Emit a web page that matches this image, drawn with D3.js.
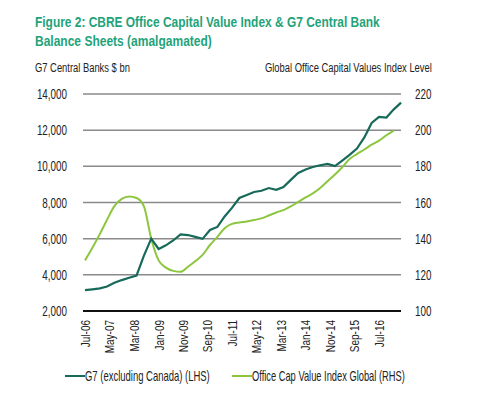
<!DOCTYPE html>
<html>
<head>
<meta charset="utf-8">
<script src="https://cdn.jsdelivr.net/npm/d3@7"></script>
<style>
  body { margin: 0; background: #fff; }
  svg { display: block; font-family: "Liberation Sans", Arial, sans-serif; }
</style>
</head>
<body>
<div id="container"></div>
<script>
const titleLines = [
  'Figure 2: CBRE Office Capital Value Index & G7 Central Bank',
  'Balance Sheets (amalgamated)',
];
const leftTitle = 'G7 Central Banks $ bn';
const rightTitle = 'Global Office Capital Values Index Level';
const seriesNames = ['G7 (excluding Canada) (LHS)', 'Office Cap Value Index Global (RHS)'];

// quarterly points, month offsets from Jul-06
const g7Months = [0, 3, 6, 9, 12, 15, 18, 21, 24, 27, 30, 33, 36, 39, 42, 45, 48, 51, 54, 57, 60, 63, 66, 69, 72, 75, 78, 81, 84, 87, 90, 93, 96, 99, 102, 105, 108, 111, 114, 117, 120, 123, 126, 129];
const g7Values = [3150, 3200, 3250, 3350, 3560, 3710, 3840, 3960, 5050, 6000, 5430, 5630, 5900, 6240, 6200, 6100, 5990, 6480, 6650, 7230, 7700, 8250, 8420, 8580, 8650, 8800, 8700, 8850, 9250, 9630, 9830, 9960, 10060, 10130, 10015, 10310, 10630, 10980, 11600, 12400, 12740, 12700, 13150, 13520];

const officeMonths = [0, 3, 6, 9, 12, 15, 18, 21, 24, 27, 30, 33, 36, 39, 42, 45, 48, 51, 54, 57, 60, 63, 66, 69, 72, 75, 78, 81, 84, 87, 90, 93, 96, 99, 102, 105, 108, 111, 114, 117, 120, 123, 126];
const officeValues = [128, 135, 142.5, 150.5, 158, 162, 163.3, 162.5, 158, 140, 128, 124, 122.2, 121.7, 124.5, 127.5, 131, 136.5, 141, 145.8, 148.2, 149, 149.5, 150.3, 151.2, 152.8, 154.5, 155.8, 157.8, 160.3, 162.8, 165, 168, 171.8, 175.5, 179.5, 184, 186.8, 189.3, 192, 194.2, 197.2, 199.8];

const leftTicks = [2000, 4000, 6000, 8000, 10000, 12000, 14000];
const rightTicks = [100, 120, 140, 160, 180, 200, 220];
const xTickMonths = [0, 10, 20, 30, 40, 50, 60, 70, 80, 90, 100, 110, 120];

const colors = { g7: '#17695a', office: '#8cc63f', title: '#1fa37a', grid: '#8a8a8a', text: '#222' };
const plot = { left: 83, right: 401, top: 94, bottom: 311 };

const start = new Date(2006, 6, 1);
const toDate = (m) => d3.timeMonth.offset(start, m);

// the original uses a very narrow typeface, so squeeze text horizontally
function squeeze(sel, factor, base) {
  sel.attr('transform', (base || '') + ' scale(' + factor + ',1)');
}
function squeezeTo(sel, x, y, width) {
  const w = sel.node().getComputedTextLength();
  sel.attr('x', 0).attr('y', 0)
    .attr('transform', 'translate(' + x + ',' + y + ') scale(' + width / w + ',1)');
}

const svg = d3.select('#container').append('svg').attr('width', 478).attr('height', 399);

const titleWidths = [345, 177];
svg.selectAll('text.title')
  .data(titleLines)
  .enter()
  .append('text')
  .attr('class', 'title')
  .attr('fill', colors.title)
  .attr('font-weight', 'bold')
  .attr('font-size', 15)
  .text((d) => d)
  .each(function (d, i) { squeezeTo(d3.select(this), 35, 27 + i * 19, titleWidths[i]); });

squeezeTo(svg.append('text').attr('font-size', 13.5).attr('fill', colors.text).text(leftTitle), 35, 72, 95);
squeezeTo(svg.append('text').attr('font-size', 13.5).attr('fill', colors.text).text(rightTitle), 265, 72, 167);

const x = d3.scaleTime().domain([start, toDate(120)]).range([85, 379]);
const yL = d3.scaleLinear().domain([2000, 14000]).range([plot.bottom, plot.top]);
const yR = d3.scaleLinear().domain([100, 220]).range([plot.bottom, plot.top]);

// grid
svg.append('g')
  .selectAll('line')
  .data(leftTicks.slice(1))
  .enter()
  .append('line')
  .attr('x1', plot.left)
  .attr('x2', plot.right)
  .attr('y1', (d) => yL(d))
  .attr('y2', (d) => yL(d))
  .attr('stroke', colors.grid)
  .attr('stroke-width', 1.5);

svg.append('line')
  .attr('x1', plot.left).attr('x2', plot.right)
  .attr('y1', yL(2000)).attr('y2', yL(2000))
  .attr('stroke', '#111').attr('stroke-width', 2);

const leftAxis = svg.append('g')
  .attr('transform', 'translate(' + (plot.left - 16) + ',0)')
  .call(d3.axisLeft(yL).tickValues(leftTicks).tickSize(0).tickPadding(0).tickFormat(d3.format(',')));
const rightAxis = svg.append('g')
  .attr('transform', 'translate(' + (plot.right + 14) + ',0)')
  .call(d3.axisRight(yR).tickValues(rightTicks).tickSize(0).tickPadding(0));
const bottomAxis = svg.append('g')
  .attr('transform', 'translate(0,' + (plot.bottom + 9) + ')')
  .call(d3.axisBottom(x).tickValues(xTickMonths.map(toDate)).tickSize(0).tickFormat(d3.timeFormat('%b-%y')));

[leftAxis, rightAxis, bottomAxis].forEach((a) => {
  a.select('.domain').remove();
  a.attr('font-family', null).attr('font-size', null);
  a.selectAll('text').attr('font-size', 14.5).attr('fill', colors.text);
});
squeeze(leftAxis.selectAll('text'), 0.68);
squeeze(rightAxis.selectAll('text'), 0.68);

bottomAxis.selectAll('text')
  .attr('font-size', 12.5)
  .attr('text-anchor', 'end')
  .attr('dy', '0.35em')
  .attr('x', 0)
  .attr('y', 0);
squeeze(bottomAxis.selectAll('text'), 0.8, 'rotate(-90)');

const g7Line = d3.line().x((d) => x(toDate(d[0]))).y((d) => yL(d[1]));
const officeLine = d3.line().curve(d3.curveMonotoneX).x((d) => x(toDate(d[0]))).y((d) => yR(d[1]));

svg.append('path')
  .datum(officeMonths.map((m, i) => [m, officeValues[i]]))
  .attr('d', officeLine)
  .attr('fill', 'none')
  .attr('stroke', colors.office)
  .attr('stroke-width', 2);

svg.append('path')
  .datum(g7Months.map((m, i) => [m, g7Values[i]]))
  .attr('d', g7Line)
  .attr('fill', 'none')
  .attr('stroke', colors.g7)
  .attr('stroke-width', 2.2);

// legend
const legendX = [65, 232];
const legendWidths = [125, 153];
const legend = svg.selectAll('g.legend')
  .data(seriesNames)
  .enter()
  .append('g')
  .attr('class', 'legend')
  .attr('transform', (d, i) => 'translate(' + legendX[i] + ',376)');
legend.append('line')
  .attr('x1', 0).attr('x2', 20).attr('y1', 0).attr('y2', 0)
  .attr('stroke', (d, i) => (i === 0 ? colors.g7 : colors.office))
  .attr('stroke-width', 2);
legend.append('text')
  .attr('dy', '0.36em')
  .attr('font-size', 14)
  .attr('fill', colors.text)
  .text((d) => d)
  .each(function (d, i) { squeezeTo(d3.select(this), 20, 0, legendWidths[i]); });
</script>
</body>
</html>
